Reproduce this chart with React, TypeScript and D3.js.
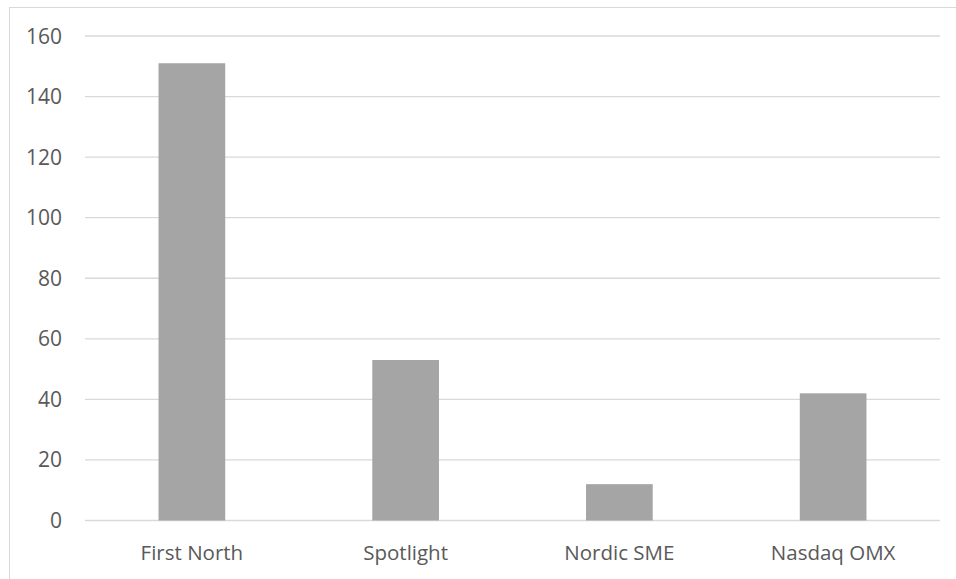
import React from "react";
import * as d3 from "d3";

const categories = ["First North", "Spotlight", "Nordic SME", "Nasdaq OMX"];
const values = [151, 53, 12, 42];
const yTicks = [0, 20, 40, 60, 80, 100, 120, 140, 160];

const W = 956;
const H = 579;
const plot = { left: 85, right: 940, top: 36, bottom: 520.5 };
const FONT = "'Open Sans', sans-serif";

export default function App() {
  const x = d3.scaleBand<string>().domain(categories).range([plot.left, plot.right]).padding(0);
  const y = d3.scaleLinear().domain([0, 160]).range([plot.bottom, plot.top]);
  const barW = x.bandwidth() * 0.312;

  return (
    <svg
      width={W}
      height={H}
      style={{ position: "absolute", left: 0, top: 0, background: "#fff" }}
    >
      <rect x={9.5} y={7.5} width={W} height={H} fill="#fff" stroke="#d9d9d9" strokeWidth={1} />
      {yTicks.map((t) => (
        <g key={t}>
          <line
            x1={plot.left}
            x2={plot.right}
            y1={y(t)}
            y2={y(t)}
            stroke="#d9d9d9"
            strokeWidth={1.3}
          />
          <text
            x={62}
            y={y(t)}
            dy="0.36em"
            textAnchor="end"
            fontFamily={FONT}
            fontSize={21}
            fill="#595959"
          >
            {t}
          </text>
        </g>
      ))}
      {categories.map((c, i) => {
        const cx = (x(c) as number) + x.bandwidth() / 2;
        return (
          <g key={c}>
            <rect
              x={cx - barW / 2}
              y={y(values[i])}
              width={barW}
              height={y(0) - y(values[i])}
              fill="#a5a5a5"
            />
            <text
              x={cx}
              y={560}
              textAnchor="middle"
              fontFamily={FONT}
              fontSize={20.5}
              fill="#595959"
            >
              {c}
            </text>
          </g>
        );
      })}
    </svg>
  );
}
